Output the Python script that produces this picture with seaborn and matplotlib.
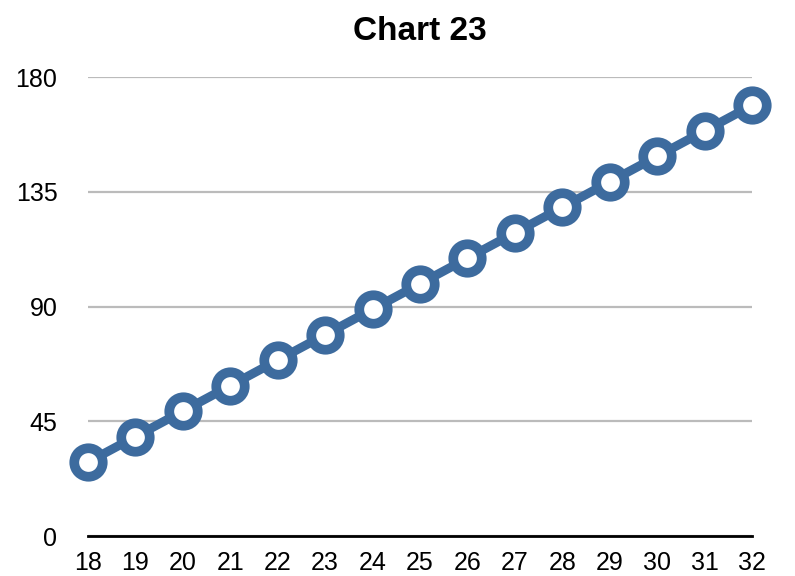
import pandas as pd
import seaborn as sns
import matplotlib.pyplot as plt

x_values = [18, 19, 20, 21, 22, 23, 24, 25, 26, 27, 28, 29, 30, 31, 32]
y_values = [29, 39, 49, 59, 69, 79, 89, 99, 109, 119, 129, 139, 149, 159, 169]
y_ticks = [0, 45, 90, 135, 180]

df = pd.DataFrame({"x": x_values, "y": y_values})

sns.set_style("white")
plt.rcParams["font.family"] = ["Liberation Sans", "DejaVu Sans"]

fig = plt.figure(figsize=(7.95, 5.76), dpi=100)
ax = fig.add_axes([0.1107, 0.0694, 0.8353, 0.7964])

line_color = "#3D6B9E"
sns.lineplot(data=df, x="x", y="y", ax=ax, color=line_color, linewidth=6.5,
             marker="o", markersize=20.5, markerfacecolor="white",
             markeredgecolor=line_color, markeredgewidth=7, clip_on=False, zorder=3)

ax.set_xlim(18, 32)
ax.set_ylim(0, 180)
ax.set_xticks(x_values)
ax.set_yticks(y_ticks)
ax.yaxis.grid(True, color="#BBBBBB", linewidth=1.6)
ax.set_axisbelow(True)

for side in ["left", "right", "top"]:
    ax.spines[side].set_visible(False)
ax.spines["bottom"].set_color("black")
ax.spines["bottom"].set_linewidth(2)
ax.spines["bottom"].set_zorder(1)

ax.tick_params(axis="both", length=0, labelsize=18, colors="black")
ax.tick_params(axis="y", pad=22)
ax.tick_params(axis="x", pad=11)
ax.set_xlabel("")
ax.set_ylabel("")
ax.set_title("Chart 23", fontsize=24, fontweight="bold", color="black", pad=27)

fig.savefig("out.png", dpi=100)
